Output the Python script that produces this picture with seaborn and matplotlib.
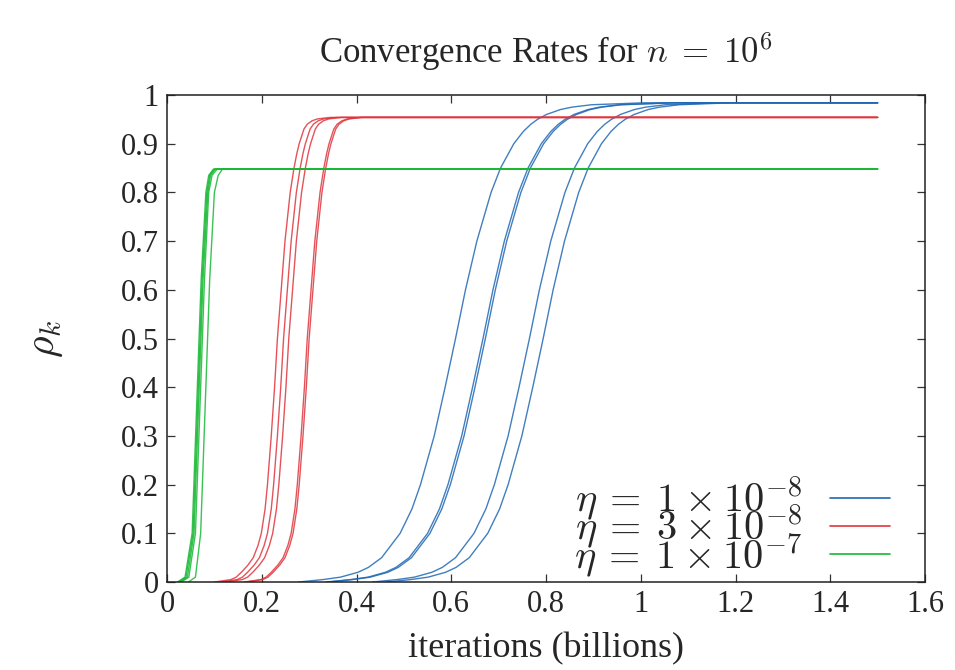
import numpy as np
import pandas as pd
import matplotlib
matplotlib.use("Agg")
import matplotlib.pyplot as plt
from matplotlib.lines import Line2D
from matplotlib.ticker import FuncFormatter, MultipleLocator
import seaborn as sns

# ---- data (x in billions of iterations, rho_k) ----
x_end = 1.5

# eta = 1e-8 : x at which each run reaches the given rho level
blue_levels = [0, 0.005, 0.01, 0.02, 0.03, 0.05, 0.1, 0.15, 0.2, 0.3, 0.4, 0.5, 0.6,
               0.7, 0.8, 0.85, 0.9, 0.925, 0.94, 0.95, 0.96, 0.97, 0.975, 0.98, 0.984]
blue_runs = [
    [0.277, 0.329, 0.366, 0.403, 0.425, 0.453, 0.492, 0.517, 0.535, 0.564, 0.587, 0.609, 0.630,
     0.654, 0.684, 0.704, 0.732, 0.752, 0.768, 0.782, 0.801, 0.830, 0.854, 0.896, 1.007],
    [0.335, 0.387, 0.424, 0.461, 0.483, 0.511, 0.550, 0.575, 0.593, 0.622, 0.645, 0.667, 0.688,
     0.712, 0.742, 0.762, 0.790, 0.810, 0.826, 0.840, 0.859, 0.888, 0.912, 0.954, 1.065],
    [0.340, 0.392, 0.429, 0.466, 0.488, 0.516, 0.555, 0.580, 0.598, 0.627, 0.650, 0.672, 0.693,
     0.717, 0.747, 0.767, 0.795, 0.815, 0.831, 0.845, 0.864, 0.893, 0.917, 0.959, 1.070],
    [0.433, 0.485, 0.522, 0.559, 0.581, 0.609, 0.648, 0.673, 0.691, 0.720, 0.743, 0.765, 0.786,
     0.810, 0.840, 0.860, 0.888, 0.908, 0.924, 0.938, 0.957, 0.986, 1.010, 1.052, 1.163],
    [0.462, 0.514, 0.551, 0.588, 0.610, 0.638, 0.677, 0.702, 0.720, 0.749, 0.772, 0.794, 0.815,
     0.839, 0.869, 0.889, 0.917, 0.937, 0.953, 0.967, 0.986, 1.015, 1.039, 1.081, 1.192],
]

# eta = 3e-8
red_levels = [0, 0.005, 0.01, 0.02, 0.035, 0.05, 0.075, 0.1, 0.15, 0.2, 0.3, 0.4, 0.5,
              0.6, 0.7, 0.8, 0.85, 0.88, 0.9, 0.915, 0.93, 0.94, 0.947, 0.951, 0.954]
red_runs = [
    [0.100, 0.135, 0.146, 0.157, 0.171, 0.182, 0.192, 0.199, 0.207, 0.212, 0.220, 0.227, 0.233,
     0.241, 0.249, 0.260, 0.268, 0.274, 0.279, 0.284, 0.289, 0.296, 0.306, 0.318, 0.345],
    [0.113, 0.148, 0.159, 0.170, 0.184, 0.195, 0.205, 0.212, 0.220, 0.225, 0.233, 0.240, 0.246,
     0.254, 0.262, 0.273, 0.281, 0.287, 0.292, 0.297, 0.302, 0.309, 0.319, 0.331, 0.358],
    [0.124, 0.159, 0.170, 0.181, 0.195, 0.206, 0.216, 0.223, 0.231, 0.236, 0.244, 0.251, 0.257,
     0.265, 0.273, 0.284, 0.292, 0.298, 0.303, 0.308, 0.313, 0.320, 0.330, 0.342, 0.369],
    [0.163, 0.198, 0.209, 0.220, 0.234, 0.245, 0.255, 0.262, 0.270, 0.275, 0.283, 0.290, 0.296,
     0.304, 0.312, 0.323, 0.331, 0.337, 0.342, 0.347, 0.352, 0.359, 0.369, 0.381, 0.408],
    [0.167, 0.202, 0.213, 0.224, 0.238, 0.249, 0.259, 0.266, 0.274, 0.279, 0.287, 0.294, 0.300,
     0.308, 0.316, 0.327, 0.335, 0.341, 0.346, 0.351, 0.356, 0.363, 0.373, 0.385, 0.412],
]

# eta = 1e-7
green_levels = [0, 0.01, 0.1, 0.62, 0.8, 0.835, 0.848]
green_runs = [
    [0.022, 0.038, 0.053, 0.072, 0.082, 0.088, 0.098],
    [0.025, 0.040, 0.055, 0.074, 0.084, 0.090, 0.100],
    [0.028, 0.043, 0.057, 0.076, 0.086, 0.092, 0.102],
    [0.030, 0.046, 0.060, 0.079, 0.088, 0.095, 0.106],
    [0.045, 0.060, 0.071, 0.090, 0.100, 0.108, 0.117],
]

eta_labels = [r"$\eta\:=\:1\:\times\:10^{-8}$", r"$\eta\:=\:3\:\times\:10^{-8}$",
              r"$\eta\:=\:1\:\times\:10^{-7}$"]
eta_colors = ["#2068b4", "#e0353d", "#18b834"]

# ---- long-form table ----
rows = []
for label, levels, runs in zip(eta_labels, [blue_levels, red_levels, green_levels],
                               [blue_runs, red_runs, green_runs]):
    for r, xs in enumerate(runs):
        for xv, yv in zip(xs + [x_end], levels + [levels[-1]]):
            rows.append({"x": xv, "rho": yv, "eta": label, "run": f"{label}-{r}"})
df = pd.DataFrame(rows)

sns.set_style("ticks")
plt.rcParams["font.family"] = ["Liberation Serif", "DejaVu Serif"]
plt.rcParams["mathtext.fontset"] = "cm"

fig = plt.figure(figsize=(9.55, 6.7), dpi=100)
ax = fig.add_axes([0.1749, 0.1313, 0.7937, 0.7269])

sns.lineplot(data=df, x="x", y="rho", hue="eta", units="run", estimator=None,
             sort=False, palette=dict(zip(eta_labels, eta_colors)),
             linewidth=1.0, alpha=0.85, legend=False, ax=ax)

ax.set_xlim(0, 1.6)
ax.set_ylim(0, 1)
ax.xaxis.set_major_locator(MultipleLocator(0.2))
ax.yaxis.set_major_locator(MultipleLocator(0.1))
fmt = FuncFormatter(lambda v, p: f"{v:g}")
ax.xaxis.set_major_formatter(fmt)
ax.yaxis.set_major_formatter(fmt)
ax.tick_params(direction="in", length=6, width=0.9, top=True, right=True,
               labelsize=22, pad=6, color="#333333")
for s in ax.spines.values():
    s.set_linewidth(1.1)
    s.set_color("#222222")

ax.set_xlabel("iterations (billions)", fontsize=26, labelpad=9)
ax.set_ylabel(r"$\rho_k$", fontsize=30, labelpad=40, rotation=90)
ax.set_title(r"Convergence Rates for $n\;=\;10^6$", fontsize=25, pad=23)

handles = [Line2D([], [], color=c, linewidth=1.2) for c in eta_colors]
ax.legend(handles, eta_labels, loc="lower right", bbox_to_anchor=(0.986, -0.045),
          frameon=False, markerfirst=False, fontsize=29, handlelength=1.5,
          labelspacing=-0.5, handletextpad=0.7, borderaxespad=0.2)

fig.savefig("out.png", dpi=100)
